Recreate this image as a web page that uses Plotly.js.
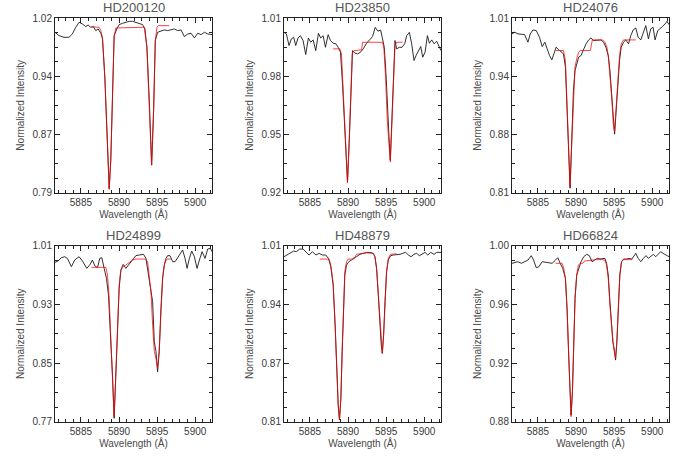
<!DOCTYPE html>
<html><head><meta charset="utf-8">
<script src="https://cdn.plot.ly/plotly-3.0.1.min.js"></script>
<style>html,body{margin:0;padding:0;background:#fff}#chart{width:686px;height:457px}</style>
</head><body><div id="chart"></div>
<script>
const stars = ["HD200120","HD23850","HD24076","HD24899","HD48879","HD66824"];

const wl1 = [5881.60,5882.13,5882.78,5883.44,5883.88,5884.32,5884.76,5885.20,5885.64,5885.94,5886.29,5886.64,5886.95,5887.26,5887.61,5887.83,5888.14,5888.40,5888.71,5888.92,5889.14,5889.36,5889.71,5890.02,5890.46,5890.90,5891.34,5891.78,5892.21,5892.65,5893.09,5893.40,5893.66,5893.97,5894.28,5894.54,5894.76,5895.06,5895.50,5895.94,5896.38,5896.82,5897.26,5897.70,5898.14,5898.57,5899.01,5899.45,5899.89,5900.33,5900.77,5901.21,5901.64,5902.20];
const flux1 = [1.0012,0.9968,0.9946,0.9946,0.9990,1.0078,1.0143,1.0121,1.0086,1.0108,1.0078,1.0086,1.0034,1.0056,0.9999,0.9925,0.9422,0.8678,0.7957,0.8329,0.9116,0.9968,1.0056,1.0113,1.0130,1.0143,1.0156,1.0156,1.0143,1.0121,1.0113,1.0056,0.9815,0.9116,0.8263,0.8984,0.9903,1.0012,1.0025,1.0043,1.0034,1.0043,1.0056,1.0034,1.0043,0.9955,0.9990,0.9999,0.9938,0.9999,0.9981,1.0012,0.9990,0.9981];
const fitWl1 = [5886.38,5887.39,5887.61,5887.83,5888.14,5888.40,5888.71,5888.92,5889.14,5889.36,5889.58,5893.31,5893.66,5893.97,5894.28,5894.54,5894.76,5894.98,5895.15,5896.60];
const fit1 = [1.0086,1.0078,1.0034,0.9946,0.9422,0.8678,0.7944,0.8329,0.9116,0.9946,1.0069,1.0078,0.9815,0.9116,0.8263,0.8984,0.9903,1.0078,1.0099,1.0099];

const wl2 = [5881.60,5881.91,5882.26,5882.56,5882.87,5883.14,5883.44,5883.75,5884.10,5884.45,5884.80,5885.11,5885.42,5885.77,5886.12,5886.42,5886.73,5887.04,5887.39,5887.70,5888.05,5888.40,5888.71,5889.01,5889.28,5889.54,5889.76,5889.93,5890.15,5890.37,5890.59,5890.90,5891.25,5891.64,5892.00,5892.43,5892.87,5893.22,5893.57,5893.92,5894.28,5894.54,5894.76,5894.98,5895.20,5895.42,5895.55,5895.72,5895.94,5896.16,5896.38,5896.73,5897.08,5897.43,5897.70,5898.05,5898.35,5898.66,5898.93,5899.23,5899.54,5899.80,5900.11,5900.42,5900.68,5900.99,5901.29,5901.64,5901.91,5902.20];
const flux2 = [1.0026,1.0018,0.9958,0.9992,1.0001,0.9958,0.9997,1.0009,0.9984,0.9912,0.9997,0.9975,0.9987,0.9932,1.0021,0.9997,1.0009,0.9949,1.0014,0.9984,0.9970,0.9967,0.9949,0.9924,0.9761,0.9539,0.9385,0.9257,0.9453,0.9761,0.9932,0.9919,0.9915,0.9924,0.9941,0.9970,0.9987,1.0004,1.0052,1.0032,1.0038,0.9992,0.9949,0.9813,0.9590,0.9453,0.9368,0.9539,0.9795,0.9984,0.9941,0.9949,0.9949,0.9967,1.0009,1.0026,0.9967,0.9881,0.9907,0.9932,0.9953,0.9898,0.9924,1.0009,0.9970,0.9987,0.9967,0.9980,0.9958,0.9932];
const fitWl2 = [5888.05,5888.92,5889.14,5889.36,5889.58,5889.80,5889.93,5890.11,5890.33,5890.55,5890.77,5891.78,5891.91,5894.54,5894.71,5894.93,5895.15,5895.37,5895.55,5895.72,5895.94,5896.16,5896.38,5897.17];
const fit2 = [0.9941,0.9941,0.9915,0.9744,0.9505,0.9342,0.9251,0.9419,0.9710,0.9915,0.9932,0.9936,0.9975,0.9975,0.9941,0.9795,0.9573,0.9436,0.9359,0.9522,0.9778,0.9958,0.9975,0.9975];

const wl3 = [5881.60,5881.95,5882.38,5882.82,5883.25,5883.69,5884.00,5884.34,5884.78,5885.21,5885.56,5885.91,5886.22,5886.52,5886.83,5887.09,5887.39,5887.74,5888.05,5888.35,5888.61,5888.83,5889.05,5889.22,5889.44,5889.66,5889.87,5890.09,5890.35,5890.66,5890.96,5891.31,5891.66,5891.97,5892.27,5892.62,5892.97,5893.27,5893.62,5893.92,5894.23,5894.45,5894.67,5894.88,5895.06,5895.27,5895.49,5895.71,5895.93,5896.23,5896.54,5896.89,5897.19,5897.50,5897.84,5898.15,5898.50,5898.80,5899.15,5899.50,5899.80,5900.11,5900.37,5900.72,5901.02,5901.33,5901.68,5901.94,5902.20];
const flux3 = [0.9918,0.9937,0.9918,0.9918,0.9910,0.9823,0.9918,0.9963,0.9956,0.9880,0.9773,0.9823,0.9747,0.9671,0.9621,0.9682,0.9766,0.9735,0.9709,0.9690,0.9538,0.9044,0.8512,0.8151,0.8702,0.9272,0.9500,0.9576,0.9652,0.9671,0.9728,0.9804,0.9849,0.9872,0.9842,0.9842,0.9849,0.9849,0.9823,0.9766,0.9671,0.9500,0.9234,0.8930,0.8770,0.9044,0.9348,0.9614,0.9766,0.9823,0.9849,0.9804,0.9899,0.9963,0.9986,0.9880,0.9849,0.9937,1.0013,0.9861,0.9975,0.9994,0.9849,0.9956,0.9975,1.0001,1.0032,1.0062,1.0024];
const fitWl3 = [5887.31,5888.35,5888.61,5888.83,5889.05,5889.22,5889.44,5889.66,5889.87,5890.09,5890.35,5890.57,5891.88,5892.14,5893.49,5893.79,5894.06,5894.27,5894.49,5894.71,5894.88,5895.06,5895.27,5895.49,5895.71,5895.93,5896.23,5897.84];
const fit3 = [0.9728,0.9728,0.9614,0.9158,0.8550,0.8170,0.8664,0.9234,0.9538,0.9633,0.9709,0.9728,0.9728,0.9849,0.9849,0.9823,0.9766,0.9633,0.9424,0.9158,0.8892,0.8797,0.9082,0.9424,0.9671,0.9804,0.9849,0.9849];

const wl4 = [5881.60,5881.99,5882.43,5882.87,5883.22,5883.75,5884.19,5884.76,5885.20,5885.77,5886.21,5886.51,5886.82,5887.17,5887.48,5887.74,5888.05,5888.35,5888.62,5888.92,5889.14,5889.36,5889.58,5889.80,5890.02,5890.24,5890.55,5890.90,5891.21,5891.56,5891.91,5892.21,5892.65,5893.22,5893.53,5893.84,5894.10,5894.41,5894.63,5894.85,5895.06,5895.28,5895.50,5895.72,5895.94,5896.16,5896.38,5896.69,5897.04,5897.35,5897.70,5898.05,5898.35,5898.66,5898.93,5899.23,5899.54,5899.89,5900.24,5900.55,5900.90,5901.29,5901.64,5902.00,5902.20];
const flux4 = [0.9873,0.9891,0.9936,0.9950,0.9927,0.9814,0.9905,0.9950,0.9891,0.9791,0.9845,0.9905,0.9827,0.9800,0.9927,0.9936,0.9791,0.9655,0.9427,0.8882,0.8336,0.7746,0.8291,0.9018,0.9518,0.9768,0.9845,0.9791,0.9836,0.9882,0.9927,0.9964,0.9973,0.9982,0.9927,0.9700,0.9564,0.9336,0.8791,0.8655,0.8382,0.8655,0.9245,0.9655,0.9836,0.9927,0.9964,0.9964,0.9882,0.9882,0.9936,0.9995,1.0041,0.9927,0.9791,0.9927,1.0027,0.9950,0.9791,0.9905,1.0018,0.9927,1.0055,1.0064,1.0018];
const fitWl4 = [5886.38,5888.27,5888.49,5888.71,5888.92,5889.14,5889.36,5889.58,5889.80,5890.02,5890.24,5890.55,5890.90,5891.34,5891.78,5892.21,5893.53,5893.75,5893.97,5894.19,5894.41,5894.63,5894.85,5895.06,5895.28,5895.50,5895.72,5895.94,5896.16,5896.38,5896.82];
const fit4 = [0.9805,0.9805,0.9700,0.9382,0.8836,0.8291,0.7768,0.8336,0.9018,0.9564,0.9768,0.9814,0.9836,0.9873,0.9905,0.9918,0.9918,0.9882,0.9700,0.9473,0.9018,0.8655,0.8564,0.8427,0.8700,0.9245,0.9655,0.9836,0.9905,0.9918,0.9918];

const wl5 = [5881.60,5881.99,5882.43,5882.87,5883.22,5883.66,5884.10,5884.45,5884.89,5885.33,5885.77,5886.21,5886.64,5887.08,5887.43,5887.74,5888.05,5888.31,5888.53,5888.71,5888.88,5889.06,5889.23,5889.41,5889.58,5889.80,5890.11,5890.46,5890.81,5891.12,5891.56,5892.00,5892.43,5892.87,5893.31,5893.53,5893.75,5893.97,5894.19,5894.36,5894.50,5894.67,5894.85,5895.06,5895.28,5895.59,5895.94,5896.38,5896.82,5897.17,5897.57,5897.92,5898.27,5898.66,5899.01,5899.36,5899.71,5900.11,5900.46,5900.85,5901.29,5901.64,5902.20];
const flux5 = [0.9975,0.9994,1.0024,1.0039,1.0032,1.0062,1.0062,1.0032,0.9994,1.0032,0.9994,1.0013,0.9994,0.9994,0.9956,0.9861,0.9653,0.9198,0.8630,0.8289,0.8119,0.8365,0.8895,0.9426,0.9767,0.9880,0.9918,0.9937,0.9964,0.9975,1.0002,1.0013,1.0024,1.0024,1.0013,0.9975,0.9842,0.9539,0.9198,0.8971,0.8877,0.9085,0.9464,0.9805,0.9937,0.9986,0.9994,0.9994,1.0002,1.0013,1.0024,0.9994,0.9975,1.0002,1.0013,0.9986,1.0002,1.0024,0.9994,1.0024,1.0002,1.0024,1.0024];
const fitWl5 = [5886.29,5887.52,5887.74,5888.05,5888.31,5888.53,5888.71,5888.88,5889.06,5889.23,5889.41,5889.58,5889.80,5890.02,5890.77,5891.12,5891.56,5892.43,5893.31,5893.53,5893.75,5893.97,5894.19,5894.36,5894.50,5894.67,5894.85,5895.06,5895.28,5895.59,5896.38];
const fit5 = [0.9948,0.9948,0.9880,0.9672,0.9198,0.8630,0.8289,0.8119,0.8365,0.8895,0.9426,0.9805,0.9918,0.9948,0.9948,1.0002,1.0009,1.0017,1.0013,0.9975,0.9842,0.9539,0.9198,0.8971,0.8877,0.9085,0.9464,0.9805,0.9956,1.0002,1.0009];

const wl6 = [5881.60,5881.95,5882.38,5882.82,5883.25,5883.69,5884.13,5884.43,5884.78,5885.13,5885.56,5886.00,5886.43,5886.87,5887.31,5887.61,5887.92,5888.26,5888.61,5888.83,5889.05,5889.22,5889.35,5889.53,5889.70,5889.87,5890.09,5890.35,5890.66,5891.01,5891.40,5891.75,5892.10,5892.44,5892.79,5893.14,5893.49,5893.79,5894.01,5894.23,5894.45,5894.67,5894.84,5895.06,5895.19,5895.36,5895.54,5895.75,5895.97,5896.23,5896.62,5896.97,5897.32,5897.63,5897.84,5898.15,5898.50,5898.85,5899.19,5899.50,5899.80,5900.15,5900.46,5900.81,5901.11,5901.42,5901.76,5902.20];
const flux6 = [0.9880,0.9886,0.9891,0.9880,0.9891,0.9902,0.9932,0.9902,0.9850,0.9857,0.9891,0.9886,0.9886,0.9880,0.9902,0.9918,0.9880,0.9845,0.9777,0.9573,0.9232,0.8959,0.8845,0.9004,0.9300,0.9641,0.9800,0.9845,0.9891,0.9925,0.9941,0.9932,0.9891,0.9902,0.9914,0.9909,0.9909,0.9914,0.9880,0.9800,0.9618,0.9414,0.9345,0.9277,0.9220,0.9345,0.9573,0.9800,0.9891,0.9909,0.9909,0.9914,0.9909,0.9936,0.9948,0.9914,0.9891,0.9914,0.9932,0.9914,0.9925,0.9941,0.9925,0.9941,0.9959,0.9948,0.9936,0.9925];
const fitWl6 = [5887.31,5888.18,5888.39,5888.61,5888.83,5889.05,5889.22,5889.35,5889.53,5889.70,5889.87,5890.09,5890.31,5890.53,5890.88,5891.09,5891.75,5892.62,5893.49,5893.79,5894.01,5894.23,5894.45,5894.67,5894.84,5895.06,5895.19,5895.36,5895.54,5895.75,5895.97,5896.23,5897.41];
const fit6 = [0.9880,0.9880,0.9845,0.9777,0.9550,0.9209,0.8936,0.8834,0.9004,0.9323,0.9641,0.9800,0.9868,0.9880,0.9880,0.9895,0.9900,0.9905,0.9905,0.9900,0.9868,0.9777,0.9595,0.9414,0.9345,0.9266,0.9232,0.9345,0.9573,0.9800,0.9891,0.9905,0.9905];

const yRanges = [[0.79,1.02],[0.92,1.01],[0.81,1.01],[0.77,1.01],[0.81,1.01],[0.88,1.00]];
const yTickText = [["0.79","0.87","0.94","1.02"],["0.92","0.95","0.98","1.01"],["0.81","0.88","0.94","1.01"],["0.77","0.85","0.93","1.01"],["0.81","0.87","0.94","1.01"],["0.88","0.92","0.96","1.00"]];
const xRange = [5881.6, 5902.2];

const spectraWl = [wl1,wl2,wl3,wl4,wl5,wl6];
const spectraFlux = [flux1,flux2,flux3,flux4,flux5,flux6];
const fitsWl = [fitWl1,fitWl2,fitWl3,fitWl4,fitWl5,fitWl6];
const fitsFlux = [fit1,fit2,fit3,fit4,fit5,fit6];

const W = 686, H = 457;
const colPx = [[55,212],[284,441],[512,669]];
const rowPx = [[18,192.7],[245.7,421.7]];
const FONT = "Liberation Sans, Arial, sans-serif";

const traces = [];
const layout = {
  width: W, height: H, margin: {l:0,r:0,t:0,b:0},
  paper_bgcolor: "#fff", plot_bgcolor: "#fff", showlegend: false,
  font: {family: FONT, size: 10, color: "#333"},
  annotations: []
};

for (let i = 0; i < 6; i++) {
  const r = Math.floor(i/3), c = i % 3;
  const n = i === 0 ? "" : String(i+1);
  const xa = "x" + n, ya = "y" + n;
  traces.push({x: spectraWl[i], y: spectraFlux[i], xaxis: xa, yaxis: ya, type: "scatter", mode: "lines",
    line: {color: "#1a1a1a", width: 0.9}, hoverinfo: "skip"});
  traces.push({x: fitsWl[i], y: fitsFlux[i], xaxis: xa, yaxis: ya, type: "scatter", mode: "lines",
    line: {color: "rgba(255,0,0,0.75)", width: 1}, hoverinfo: "skip"});

  const [y0, y1] = yRanges[i];
  const major = [0,1,2,3].map(k => y0 + k*(y1-y0)/3);
  const minor = [];
  for (let k = 0; k <= 12; k++) if (k % 4 !== 0) minor.push(y0 + k*(y1-y0)/12);

  const common = {showline: true, linecolor: "#222", linewidth: 1, mirror: "allticks",
    ticks: "inside", ticklen: 5, tickwidth: 1, tickcolor: "#222", showgrid: false, zeroline: false,
    automargin: false, fixedrange: true, tickfont: {family: FONT, size: 10, color: "#3a3a3a"}};

  layout["xaxis" + n] = Object.assign({}, common, {
    domain: [colPx[c][0]/W, colPx[c][1]/W], anchor: ya, range: xRange,
    tickmode: "linear", tick0: 5885, dtick: 5,
    minor: {tickmode: "linear", tick0: 5882, dtick: 1, ticks: "inside", ticklen: 3, tickcolor: "#222", showgrid: false},
    title: {text: "Wavelength (Å)", font: {family: FONT, size: 10, color: "#4a4a4a"}, standoff: 2}
  });
  layout["yaxis" + n] = Object.assign({}, common, {
    domain: [(H - rowPx[r][1])/H, (H - rowPx[r][0])/H], anchor: xa, range: [y0, y1],
    tickmode: "array", tickvals: major, ticktext: yTickText[i],
    minor: {tickmode: "array", tickvals: minor, ticks: "inside", ticklen: 3, tickcolor: "#222", showgrid: false},
    title: {text: "Normalized Intensity", font: {family: FONT, size: 10, color: "#4a4a4a"}, standoff: 6}
  });

  layout.annotations.push({
    text: stars[i], xref: "paper", yref: "paper",
    x: (colPx[c][0] + colPx[c][1]) / 2 / W, y: 1 - (rowPx[r][0] - 10.5) / H,
    xanchor: "center", yanchor: "middle", showarrow: false,
    font: {family: FONT, size: 13, color: "#555", weight: "normal"}
  });
}

Plotly.newPlot("chart", traces, layout, {displayModeBar: false, staticPlot: true});
</script>
</body></html>
